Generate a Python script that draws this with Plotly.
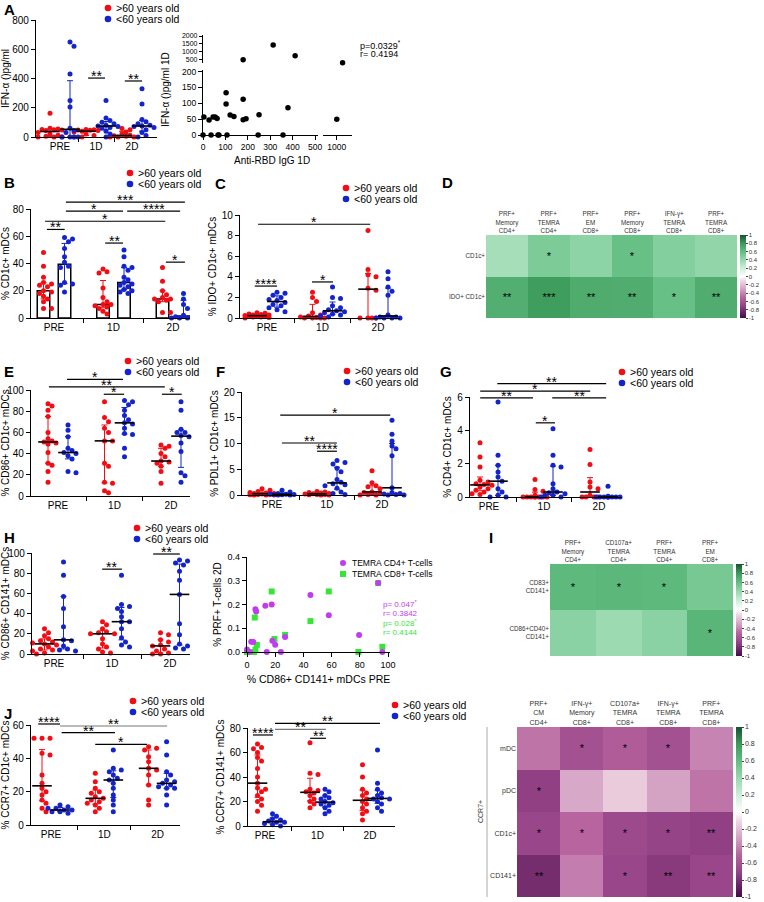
import numpy as np
import plotly.graph_objects as go

W, H = 764, 902
FONT = "Liberation Sans, Arial, sans-serif"
RED = "#f20d14"
BLUE = "#1424cc"
PURPLE = "#c03cf0"
GREEN = "#36e636"

groups = ["PRE", "1D", "2D"]
age_labels = [">60 years old", "<60 years old"]

# ---- A: IFN-alpha by age group
a_red = [[162, 60, 55, 52, 50, 48, 45, 30, 20, 12, 5, 0, 0, 0],
         [52, 50, 48, 47, 45, 40, 35, 20, 10, 0, 0],
         [58, 50, 35, 20, 12, 8, 5, 0, 0, 0]]
a_blue = [[650, 620, 430, 250, 205, 60, 45, 30, 0, 0, 0, 0],
          [250, 130, 112, 100, 90, 80, 75, 72, 65, 60, 40, 20, 0],
          [330, 225, 120, 105, 90, 80, 75, 72, 65, 50, 30, 10, 0]]
# A: IFN-alpha vs anti-RBD IgG
a_igg = [4, 27, 45, 54, 63, 103, 103, 121, 138, 179, 179, 192, 250, 379, 1000,
         0, 36, 67, 71, 107, 246, 357, 179, 313, 411, 1040]
a_ifn = [57, 47, 57, 57, 52, 133, 98, 63, 58, 113, 48, 51, 64, 86, 50,
         0, 0, 0, 0, 0, 0, 0, 500, 1437, 750, 312]

# ---- B: % CD1c+ mDCs
b_red = [[48, 38, 30, 26, 25, 24, 23, 20, 19, 18, 16, 14, 12, 7, 7],
         [36, 34, 33, 22, 15, 12, 10, 10, 9, 8, 7, 5, 3],
         [37, 27, 20, 17, 15, 14, 14, 13, 12, 4, 4]]
b_blue = [[59, 58, 56, 51, 45, 41, 38, 37, 26, 25, 24, 19],
          [50, 45, 38, 37, 35, 30, 28, 26, 25, 24, 23, 21, 20, 19, 18],
          [18, 17, 14, 10, 7, 2, 1, 1, 0, 0, 0, 0]]

# ---- C: % IDO+ CD1c+ mDCs
c_red = [[0.5, 0.45, 0.4, 0.35, 0.3, 0.3, 0.25, 0.2, 0.2, 0.15, 0.1, 0.1, 0.05, 0.0],
         [2.5, 2.0, 1.6, 0.5, 0.3, 0.2, 0.1, 0.05, 0, 0, 0, 0],
         [8.5, 4.7, 4.2, 4.0, 2.9, 2.7, 0, 0, 0, 0]]
c_blue = [[2.5, 2.4, 2.2, 2.0, 1.8, 1.7, 1.5, 1.3, 1.2, 1.0, 0.8, 0.6],
          [3.0, 2.0, 1.9, 1.2, 1.0, 0.8, 0.7, 0.6, 0.5, 0.4, 0.3, 0.2, 0.1],
          [4.5, 3.8, 3.0, 2.6, 2.2, 0.3, 0.1, 0.1, 0, 0, 0, 0]]

# ---- E: % CD86+ CD1c+ mDCs
e_red = [[87, 85, 81, 75, 60, 54, 52, 51, 50, 49, 41, 31, 29, 23, 13],
         [89, 74, 70, 64, 60, 52, 52, 31, 28, 13, 12, 5, 3],
         [48, 47, 45, 40, 37, 33, 32, 31, 28, 23, 12]]
e_blue = [[67, 62, 56, 45, 43, 41, 40, 38, 35, 23, 22],
          [90, 89, 86, 81, 76, 72, 69, 68, 64, 59, 58, 45, 37],
          [89, 81, 63, 60, 60, 57, 56, 50, 42, 22, 19, 13]]

# ---- F: % PDL1+ CD1c+ mDCs
f_red = [[1.2, 0.9, 0.7, 0.5, 0.4, 0.3, 0.3, 0.2, 0.1, 0.1, 0.05, 0, 0, 0],
         [0.7, 0.6, 0.5, 0.4, 0.3, 0.25, 0.2, 0.1, 0.1, 0.05, 0, 0],
         [4.7, 2.4, 1.8, 1.6, 1.2, 0.6, 0.5, 0.3, 0.1, 0, 0]]
f_blue = [[0.9, 0.6, 0.3, 0.2, 0.15, 0.1, 0.1, 0.05, 0, 0],
          [6.7, 6.3, 6.0, 5.2, 4.5, 3.0, 2.5, 2.2, 2.0, 1.8, 1.3, 0.6, 0.3, 0.1],
          [14.5, 11.8, 10.5, 9.5, 9.0, 7.6, 1.4, 0.5, 0.3, 0.2, 0.1, 0, 0]]

# ---- G: % CD4+ CD1c+ mDCs
g_red = [[3.25, 2.4, 1.8, 1.0, 0.9, 0.8, 0.75, 0.7, 0.6, 0.5, 0.4, 0.3, 0.2, 0.15],
         [1.05, 0.45, 0.35, 0.1, 0, 0, 0, 0, 0, 0, 0, 0],
         [2.85, 1.95, 0.9, 0.6, 0.5, 0.1, 0, 0, 0, 0]]
g_blue = [[5.7, 2.5, 1.9, 1.5, 1.2, 0.95, 0.5, 0.3, 0.1, 0, 0],
          [4.1, 2.5, 1.9, 1.8, 0.8, 0.5, 0.3, 0.25, 0.2, 0.1, 0.1, 0, 0],
          [0.65, 0.05, 0, 0, 0, 0, 0, 0, 0, 0, 0]]

# ---- H: % CD86+ CD141+ mDCs
h_red = [[25, 21, 18, 15, 13, 12, 11, 10, 9, 7, 5, 4, 3, 1, 0],
         [32, 29, 25, 22, 21, 20, 20, 15, 10, 7, 5, 2, 1],
         [21, 19, 14, 12, 9, 8, 5, 3, 1, 0, 0]]
h_blue = [[91, 78, 57, 45, 27, 14, 13, 8, 5, 4, 3],
          [78, 49, 47, 45, 42, 37, 32, 32, 25, 16, 12, 9, 7],
          [93, 92, 90, 88, 82, 73, 59, 30, 19, 10, 8, 6, 5]]
# H: PRF+ T-cells 2D vs CD86+ CD141+ PRE
h_cd4_x = [0, 2, 3, 4.5, 6, 6.5, 13, 17.5, 14, 18, 20, 24, 27, 45, 58, 79.5, 93, 96]
h_cd4_y = [0.01, 0, 0.043, 0.042, 0.18, 0.17, 0.195, 0.2, 0, 0.047, 0.03, 0, 0.063, 0.24, 0.155, 0.072, 0.29, 0]
h_cd8_x = [0, 5, 5.5, 7, 6, 17.5, 19.5, 27, 45, 58, 79, 93, 96]
h_cd8_y = [0, 0, 0.145, 0.03, 0.01, 0.255, 0.055, 0.072, 0.13, 0.255, 0, 0.29, 0.022]

# ---- J: % CCR7+ mDCs
j1_red = [[52, 52, 52, 43, 42, 30, 25, 22, 20, 18, 15, 13, 10, 8],
          [31, 26, 22, 20, 19, 17, 16, 15, 14, 13, 12, 10, 8],
          [47, 46, 45, 41, 38, 34, 33, 30, 24, 15, 12]]
j1_blue = [[12, 11, 10, 10, 9, 9, 8, 8, 7],
           [45, 34, 33, 32, 30, 28, 27, 25, 22, 18, 15, 12, 8],
           [50, 42, 32, 30, 27, 26, 25, 24, 23, 22, 22, 18, 12]]
j2_red = [[67, 64, 63, 60, 56, 53, 47, 40, 35, 31, 30, 28, 25, 22, 20, 17, 12],
          [68, 43, 42, 30, 29, 28, 27, 25, 22, 20, 18, 15],
          [50, 40, 30, 27, 25, 22, 20, 18, 15, 12, 10, 5]]
j2_blue = [[10, 8, 6, 5, 4, 3, 3, 2, 1, 0],
           [30, 28, 25, 23, 22, 20, 19, 18, 17, 15, 12, 10],
           [62, 35, 30, 27, 25, 23, 22, 22, 20, 18, 15, 12]]

# ---- correlation heatmaps
d_cols = ["PRF+<br>Memory<br>CD4+", "PRF+<br>TEMRA<br>CD4+", "PRF+<br>EM<br>CD8+",
          "PRF+<br>Memory<br>CD8+", "IFN-γ+<br>TEMRA<br>CD8+", "PRF+<br>TEMRA<br>CD8+"]
d_rows = ["CD1c+", "IDO+ CD1c+"]
d_vals = [[0.35, 0.5, 0.44, 0.58, 0.47, 0.42],
          [0.68, 0.78, 0.7, 0.69, 0.58, 0.69]]
d_stars = [["", "*", "", "*", "", ""],
           ["**", "***", "**", "**", "*", "**"]]

i_cols = ["PRF+<br>Memory<br>CD4+", "CD107a+<br>TEMRA<br>CD4+", "PRF+<br>TEMRA<br>CD4+", "PRF+<br>EM<br>CD8+"]
i_rows = ["CD83+<br>CD141+", "CD86+CD40+<br>CD141+"]
i_vals = [[0.62, 0.63, 0.62, 0.52],
          [0.45, 0.38, 0.45, 0.64]]
i_stars = [["*", "*", "*", ""],
           ["", "", "", "*"]]

k_cols = ["PRF+<br>CM<br>CD4+", "IFN-γ+<br>Memory<br>CD8+", "CD107a+<br>TEMRA<br>CD8+",
          "IFN-γ+<br>TEMRA<br>CD8+", "PRF+<br>TEMRA<br>CD8+"]
k_rows = ["mDC", "pDC", "CD1c+", "CD141+"]
k_vals = [[-0.45, -0.62, -0.55, -0.62, -0.4],
          [-0.72, -0.28, -0.15, -0.3, -0.45],
          [-0.68, -0.5, -0.66, -0.7, -0.72],
          [-0.82, -0.42, -0.68, -0.75, -0.68]]
k_stars = [["", "*", "*", "*", ""],
           ["*", "", "", "", ""],
           ["*", "*", "*", "*", "**"],
           ["**", "", "*", "**", "**"]]

cb_vals = [1, 0.8, 0.6, 0.4, 0.2, 0, -0.2, -0.4, -0.6, -0.8, -1]
cb_text = ["1", "0.8", "0.6", "0.4", "0.2", "0", "-0.2", "-0.4", "-0.6", "-0.8", "-1"]

corr_scale = [[0.0, "#450a48"], [0.15, "#964488"], [0.25, "#b8649f"], [0.35, "#d4a3c4"],
              [0.45, "#f0d8e4"], [0.5, "#ffffff"], [0.6, "#cdeedb"], [0.7, "#97d8ae"],
              [0.8, "#62bd80"], [0.9, "#3b9a5a"], [1.0, "#16532e"]]

fig = go.Figure()
shapes = []
annots = []
nax = [0]


def add_axes(x0, x1, ytop, ybot, xopt, yopt):
    # one x/y axis pair placed by pixel box
    nax[0] += 1
    s = "" if nax[0] == 1 else str(nax[0])
    base = dict(showgrid=False, zeroline=False, showline=True, linecolor="black",
                linewidth=1.2, ticks="outside", ticklen=4, tickwidth=1.2,
                tickcolor="black", tickfont=dict(family=FONT, size=10, color="black"))
    xa = dict(base, domain=[x0 / W, x1 / W], anchor="y" + s)
    ya = dict(base, domain=[1 - ybot / H, 1 - ytop / H], anchor="x" + s)
    xa.update(xopt)
    ya.update(yopt)
    fig.update_layout({"xaxis" + s: xa, "yaxis" + s: ya})
    return "x" + s, "y" + s


def text(x, y, s, size=10, color="black", xanchor="left", yanchor="middle", **kw):
    annots.append(dict(x=x / W, y=1 - y / H, xref="paper", yref="paper", text=s,
                       showarrow=False, font=dict(family=FONT, size=size, color=color),
                       xanchor=xanchor, yanchor=yanchor, **kw))


def line(x0, y0, x1, y1, color="black", width=1.2):
    shapes.append(dict(type="line", xref="paper", yref="paper", x0=x0 / W, y0=1 - y0 / H,
                       x1=x1 / W, y1=1 - y1 / H, line=dict(color=color, width=width)))


def dot(x, y, color, r=3.3, kind="circle"):
    shapes.append(dict(type=kind, xref="paper", yref="paper", x0=(x - r) / W, x1=(x + r) / W,
                       y0=1 - (y + r) / H, y1=1 - (y - r) / H, fillcolor=color, line=dict(width=0)))


def legend(x, y):
    dot(x, y, RED)
    text(x + 6, y, age_labels[0], size=10.5)
    dot(x, y + 11, BLUE)
    text(x + 6, y + 11, age_labels[1], size=10.5)


def letter(x, y, s):
    text(x, y, "<b>" + s + "</b>", size=15)


def swarm(vals, ppy, ppx, d=5.0):
    # horizontal spread so that dots do not overlap (GraphPad style)
    placed, out = [], []
    for v in vals:
        best, best_gap = 0, -1
        for k in [0, 1, -1, 2, -2, 3, -3]:
            dx = k * d * 0.8
            gap = min([(dx - a) ** 2 + ((v - b) * ppy) ** 2 for a, b in placed] or [99])
            if gap >= (d * 0.9) ** 2:
                best = dx
                break
            if gap > best_gap:
                best, best_gap = dx, gap
        placed.append((best, v))
        out.append(best / ppx)
    return out


def group_panel(red, blue, x0, x1, ytop, ybot, ymax, ystep, ytitle, c0, sp, off_px,
                sigs, bars=False, tsize=10):
    xr = [(x0 - c0) / sp, (x1 - c0) / sp]
    xid, yid = add_axes(
        x0, x1, ytop, ybot,
        dict(range=xr, tickvals=[0, 1, 2], ticktext=groups, ticks="",
             minor=dict(tickvals=[0.5, 1.5], ticks="outside", ticklen=4, tickwidth=1.2,
                        tickcolor="black")),
        dict(range=[0, ymax], tickvals=list(np.arange(0, ymax + 1e-9, ystep)),
             tickfont=dict(family=FONT, size=tsize, color="black"),
             title=dict(text=ytitle, font=dict(family=FONT, size=10, color="black"), standoff=3)))
    ppy = (ybot - ytop) / ymax
    off = off_px / sp
    for series, col, sgn in ((red, RED, -1), (blue, BLUE, 1)):
        med = [float(np.median(g)) for g in series]
        q1 = [float(np.percentile(g, 25, method="weibull")) for g in series]
        q3 = [float(np.percentile(g, 75, method="weibull")) for g in series]
        cx = [i + sgn * off for i in range(3)]
        err = dict(type="data", symmetric=False, array=[b - m for b, m in zip(q3, med)],
                   arrayminus=[m - a for a, m in zip(q1, med)], color=col, thickness=1, width=3)
        if bars:
            fig.add_trace(go.Bar(x=cx, y=med, width=0.21, xaxis=xid, yaxis=yid, error_y=err,
                                 marker=dict(color="white", line=dict(color="black", width=1.5)),
                                 hoverinfo="skip"))
        xs, ys = [], []
        for i, g in enumerate(series):
            xs += [cx[i] + dj for dj in swarm(g, ppy, sp)]
            ys += list(g)
        fig.add_trace(go.Scatter(x=xs, y=ys, mode="markers", xaxis=xid, yaxis=yid,
                                 marker=dict(color=col, size=5), cliponaxis=False,
                                 hoverinfo="skip"))
        if not bars:
            fig.add_trace(go.Scatter(x=cx, y=med, mode="markers", xaxis=xid, yaxis=yid,
                                     error_y=err, cliponaxis=False, hoverinfo="skip",
                                     marker=dict(symbol="line-ew", size=14, color="black",
                                                 line=dict(width=1.6, color="black"))))

    def fx(u):
        return x0 + (u - xr[0]) * sp

    def fy(v):
        return ybot - v * ppy

    for u0, u1, v, s, c in sigs:
        line(fx(u0), fy(v), fx(u1), fy(v), color=c)
        text((fx(u0) + fx(u1)) / 2, fy(v) - 2, s, size=14, xanchor="center", color="black")


def heat(x0, x1, ytop, ybot, cols, rows, vals, stars, cbx, hsize=6.3, rsize=6.3, cbsize=6):
    xid, yid = add_axes(
        x0, x1, ytop, ybot,
        dict(side="top", showline=False, ticks="", type="category",
             tickfont=dict(family=FONT, size=hsize, color="#333")),
        dict(autorange="reversed", showline=False, ticks="", type="category",
             tickfont=dict(family=FONT, size=rsize, color="#333")))
    fig.add_trace(go.Heatmap(
        z=vals, x=cols, y=rows, xaxis=xid, yaxis=yid, zmin=-1, zmax=1,
        colorscale=corr_scale, text=stars, texttemplate="%{text}",
        textfont=dict(family=FONT, size=11, color="black"), hoverinfo="skip",
        colorbar=dict(x=cbx / W, xanchor="left", y=1 - ytop / H, yanchor="top",
                      len=(ybot - ytop) / H, thickness=6, tickvals=cb_vals, ticktext=cb_text,
                      tickfont=dict(family=FONT, size=cbsize, color="#333"), outlinewidth=0,
                      ticks="outside", ticklen=2, tickwidth=0.6, xpad=0, ypad=0)))


# ---------------- A left
letter(2, 9, "A")
legend(108, 8)
group_panel(a_red, a_blue, 36, 157, 20, 137, 800, 200, "IFN-α ()pg/ml", 60, 36, 10,
            [(0.78, 1.25, 403, "**", "black"), (1.8, 2.28, 383, "**", "black")])

# ---------------- A right (broken axes)
igg = np.array(a_igg, dtype=float)
ifn = np.array(a_ifn, dtype=float)
small = dict(family=FONT, size=8.5, color="black")
tiny = dict(family=FONT, size=7, color="black")
xl, yl = add_axes(203, 318, 70, 135,
                  dict(range=[0, 513], tickvals=[0, 100, 200, 300, 400, 500], tickfont=small),
                  dict(range=[0, 205], tickvals=[0, 50, 100, 150, 200], tickfont=small))
xr_, yu = add_axes(323, 352, 35, 63,
                   dict(range=[905, 1105], tickvals=[1000], tickfont=small, anchor=yl),
                   dict(range=[300, 2063], tickvals=[500, 1000, 1500, 2000], tickfont=tiny,
                        ticklen=3, anchor=xl))
for xa_, ya_, m in ((xl, yl, (igg < 600) & (ifn < 300)), (xl, yu, (igg < 600) & (ifn >= 300)),
                    (xr_, yl, (igg >= 600) & (ifn < 300)), (xr_, yu, (igg >= 600) & (ifn >= 300))):
    fig.add_trace(go.Scatter(x=igg[m], y=ifn[m], mode="markers", xaxis=xa_, yaxis=ya_,
                             marker=dict(color="black", size=5.5), cliponaxis=False,
                             hoverinfo="skip"))
text(166, 90, "IFN-α ()pg/ml 1D", size=10, xanchor="center", textangle=-90)
text(272, 160, "Anti-RBD IgG 1D", size=10, xanchor="center")
text(358, 45, "p=0.0329<sup>*</sup>", size=9)
text(358, 54, "r= 0.4194", size=9)

# ---------------- B
letter(2, 182, "B")
legend(130, 173)
group_panel(b_red, b_blue, 31, 190, 209, 318, 80, 20, "% CD1c+ mDCs", 54, 59.5, 10.5,
            [(0.2, 2.2, 85, "***", "black"), (0.2, 1.16, 78.5, "*", "black"),
             (1.23, 2.12, 78.5, "****", "black"), (-0.15, 1.87, 71, "*", "black"),
             (-0.12, 0.18, 65, "**", "black"), (0.86, 1.16, 55, "**", "black"),
             (1.88, 2.2, 41, "*", "black")], bars=True)

# ---------------- C
letter(213, 183, "C")
legend(346, 188)
group_panel(c_red, c_blue, 240, 400, 215, 318, 10, 2, "% IDO+ CD1c+ mDCs", 267, 55.5, 10,
            [(-0.16, 1.86, 9.1, "*", "black"), (-0.22, 0.18, 3.1, "****", "black"),
             (0.81, 1.19, 3.5, "*", "black")])

# ---------------- D
letter(440, 182, "D")
heat(486, 737, 235, 318, d_cols, d_rows, d_vals, d_stars, 740)

# ---------------- E
letter(2, 372, "E")
legend(128, 361)
group_panel(e_red, e_blue, 31, 190, 390, 496, 100, 20, "% CD86+ CD1c+ mDCs", 58, 56.5, 10,
            [(0.16, 1.15, 110, "*", "black"), (-0.16, 1.89, 103, "**", "black"),
             (0.81, 1.17, 96, "*", "black"), (1.84, 2.19, 96, "*", "black")])

# ---------------- F
letter(214, 372, "F")
legend(347, 371)
group_panel(f_red, f_blue, 242, 405, 392, 495, 20, 5, "% PDL1+ CD1c+ mDCs", 272, 55, 10,
            [(0.15, 2.15, 15.5, "*", "black"), (0.18, 1.18, 10.1, "**", "black"),
             (0.82, 1.18, 8.5, "****", "black")])

# ---------------- G
letter(438, 372, "G")
legend(622, 372)
group_panel(g_red, g_blue, 470, 622, 397, 497, 6, 2, "% CD4+ CD1c+ mDCs", 489, 55, 9,
            [(0.15, 2.13, 6.8, "**", "black"), (-0.16, 1.84, 6.35, "*", "black"),
             (-0.16, 0.8, 5.95, "**", "black"), (1.15, 2.13, 5.95, "**", "black"),
             (0.85, 1.2, 4.45, "*", "black")])

# ---------------- H left
letter(2, 537, "H")
legend(137, 528)
group_panel(h_red, h_blue, 32, 190, 553, 654, 100, 20, "% CD86+ CD141+ mDCs", 54, 58, 9.5,
            [(0.83, 1.17, 84, "**", "black"), (1.71, 2.17, 99, "**", "black")])

# ---------------- H right scatter
small9 = dict(family=FONT, size=9, color="black")
xs_, ys_ = add_axes(247, 390, 557, 652,
                    dict(range=[0, 101.4], tickvals=[0, 20, 40, 60, 80, 100], tickfont=small9,
                         title=dict(text="% CD86+ CD141+ mDCs PRE",
                                    font=dict(family=FONT, size=10.5, color="black"), standoff=6)),
                    dict(range=[0, 0.4], tickvals=[0, 0.1, 0.2, 0.3, 0.4], tickformat=".1f",
                         tickfont=small9,
                         title=dict(text="% PRF+ T-cells 2D",
                                    font=dict(family=FONT, size=10, color="black"), standoff=4)))
fig.add_trace(go.Scatter(x=h_cd8_x, y=h_cd8_y, mode="markers", xaxis=xs_, yaxis=ys_,
                         marker=dict(color=GREEN, size=6, symbol="square"), cliponaxis=False,
                         hoverinfo="skip"))
fig.add_trace(go.Scatter(x=h_cd4_x, y=h_cd4_y, mode="markers", xaxis=xs_, yaxis=ys_,
                         marker=dict(color=PURPLE, size=6), cliponaxis=False, hoverinfo="skip"))
dot(343, 563, PURPLE, r=3)
text(350, 563, "TEMRA CD4+ T-cells", size=8.5)
dot(343, 574, GREEN, r=3, kind="rect")
text(350, 574, "TEMRA CD8+ T-cells", size=8.5)
text(381, 604, "p= 0.047<sup>*</sup>", size=8, color=PURPLE)
text(381, 613, "r= 0.3842", size=8, color=PURPLE)
text(381, 623, "p= 0.028<sup>*</sup>", size=8, color=GREEN)
text(381, 632, "r= 0.4144", size=8, color=GREEN)

# ---------------- I
letter(487, 537, "I")
heat(550, 733, 564, 656, i_cols, i_rows, i_vals, i_stars, 736)

# ---------------- J
letter(2, 713, "J")
legend(133, 701)
group_panel(j1_red, j1_blue, 31, 180, 725, 825, 60, 20, "% CCR7+ CD1c+ mDCs", 51, 53.3, 9,
            [(-0.24, 0.17, 60.6, "****", "black"), (0.17, 2.18, 59.4, "**", "#777"),
             (0.2, 1.2, 55.4, "**", "black"), (0.83, 1.8, 48.4, "*", "black")])
legend(395, 705)
group_panel(j2_red, j2_blue, 248, 395, 728, 826, 80, 20, "% CCR7+ CD141+ mDCs", 265, 52.5, 7.5,
            [(0.19, 2.19, 83.8, "**", "black"), (0.19, 1.16, 78.9, "**", "#777"),
             (-0.23, 0.15, 74.3, "****", "black"), (0.86, 1.16, 71.6, "**", "black")])

# ---------------- bottom heatmap (CCR7+)
heat(517, 733, 727, 897, k_cols, k_rows, k_vals, k_stars, 736, hsize=7, rsize=7, cbsize=7)
line(487, 727, 487, 897, color="#aaa", width=1)
text(480, 812, "CCR7+", size=7, xanchor="center", textangle=-90, color="#333")

fig.update_layout(width=W, height=H, margin=dict(l=0, r=0, t=0, b=0), showlegend=False,
                  template="none", plot_bgcolor="white", paper_bgcolor="white",
                  font=dict(family=FONT, color="black"), shapes=shapes, annotations=annots,
                  barmode="overlay")
# page margin removed so the figure sits at the window's top-left corner
fig.write_html("out.html", config={"displayModeBar": False},
               post_script="document.body.style.margin='0px';document.body.style.overflow='hidden';")
